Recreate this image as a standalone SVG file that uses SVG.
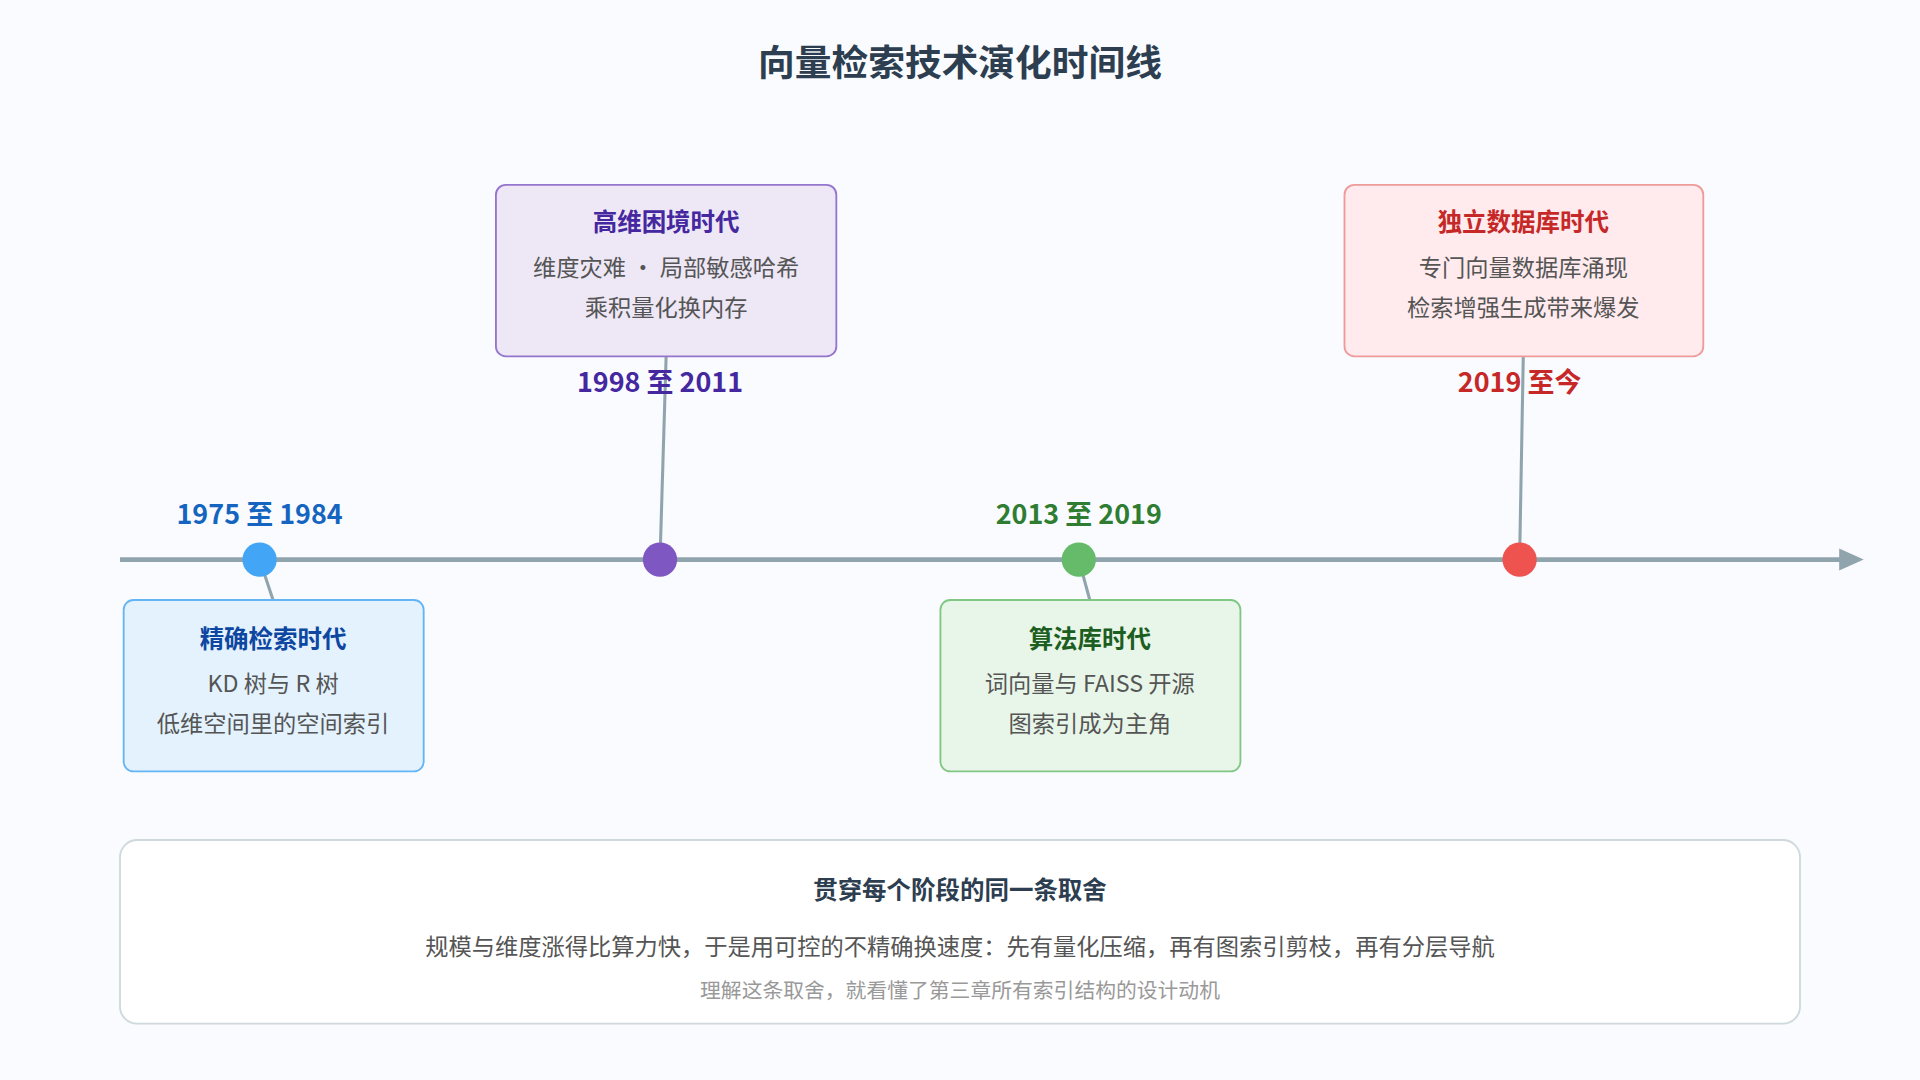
<svg xmlns="http://www.w3.org/2000/svg" width="1920" height="1080" viewBox="0 0 1920 1080">
<style>
text{font-family:"Noto Sans CJK SC","Noto Sans",sans-serif;text-anchor:middle}
.t{font-weight:bold;font-size:20px}
.d{font-size:19px;fill:#555}
.y{font-weight:bold;font-size:22px}
.c{stroke:#90a4ae;stroke-width:2.5;fill:none}
</style>
<defs><marker id="ar" markerWidth="10" markerHeight="10" refX="2" refY="5" orient="auto" markerUnits="userSpaceOnUse"><path d="M0,0 L20,5 L0,10 Z" fill="#90a4ae" transform="scale(1,1)"/></marker></defs>
<rect width="1920" height="1080" fill="#f9fbfe"/>
<g transform="scale(1.2245)">
<text x="784" y="62" style="font-size:30px;font-weight:bold" fill="#2c3e50">向量检索技术演化时间线</text>
<g id="connectors">
<line x1="98" y1="457" x2="1505" y2="457" stroke="#90a4ae" stroke-width="4"/>
<path d="M1502,448 L1522,457 L1502,466 Z" fill="#90a4ae"/>
<line class="c" x1="212" y1="457" x2="223" y2="490"/>
<line class="c" x1="544" y1="291" x2="539" y2="457"/>
<line class="c" x1="881" y1="457" x2="890" y2="490"/>
<line class="c" x1="1244" y1="291" x2="1241" y2="457"/>
</g>
<g id="n1">
<rect x="101" y="490" width="245" height="140" rx="8" fill="#e3f2fd" stroke="#64b5f6" stroke-width="1.5"/>
<text class="t" x="223" y="529" fill="#0d47a1">精确检索时代</text>
<text class="d" x="223" y="565">KD 树与 R 树</text>
<text class="d" x="223" y="598">低维空间里的空间索引</text>
<circle cx="212" cy="457" r="14" fill="#42a5f5"/>
<text class="y" x="212" y="428" fill="#1565c0">1975 至 1984</text>
</g>
<g id="n2">
<rect x="405" y="151" width="278" height="140" rx="8" fill="#ede7f6" stroke="#9575cd" stroke-width="1.5"/>
<text class="t" x="544" y="189" fill="#4527a0">高维困境时代</text>
<text class="d" x="544" y="225">维度灾难 · 局部敏感哈希</text>
<text class="d" x="544" y="258">乘积量化换内存</text>
<circle cx="539" cy="457" r="14" fill="#7e57c2"/>
<text class="y" x="539" y="320" fill="#4527a0">1998 至 2011</text>
</g>
<g id="n3">
<rect x="768" y="490" width="245" height="140" rx="8" fill="#e8f5e9" stroke="#81c784" stroke-width="1.5"/>
<text class="t" x="890" y="529" fill="#1b5e20">算法库时代</text>
<text class="d" x="890" y="565">词向量与 FAISS 开源</text>
<text class="d" x="890" y="598">图索引成为主角</text>
<circle cx="881" cy="457" r="14" fill="#66bb6a"/>
<text class="y" x="881" y="428" fill="#2e7d32">2013 至 2019</text>
</g>
<g id="n4">
<rect x="1098" y="151" width="293" height="140" rx="8" fill="#ffebee" stroke="#ef9a9a" stroke-width="1.5"/>
<text class="t" x="1244" y="189" fill="#c62828">独立数据库时代</text>
<text class="d" x="1244" y="225">专门向量数据库涌现</text>
<text class="d" x="1244" y="258">检索增强生成带来爆发</text>
<circle cx="1241" cy="457" r="14" fill="#ef5350"/>
<text class="y" x="1241" y="320" fill="#c62828">2019 至今</text>
</g>
<g id="summary">
<rect x="98" y="686" width="1372" height="150" rx="14" fill="#fff" stroke="#cfd8dc" stroke-width="1.5"/>
<text class="t" x="784" y="734" fill="#2c3e50">贯穿每个阶段的同一条取舍</text>
<text class="d" x="784" y="780">规模与维度涨得比算力快，于是用可控的不精确换速度：先有量化压缩，再有图索引剪枝，再有分层导航</text>
<text x="784" y="815" style="font-size:17px" fill="#999">理解这条取舍，就看懂了第三章所有索引结构的设计动机</text>
</g>
</g>
</svg>
